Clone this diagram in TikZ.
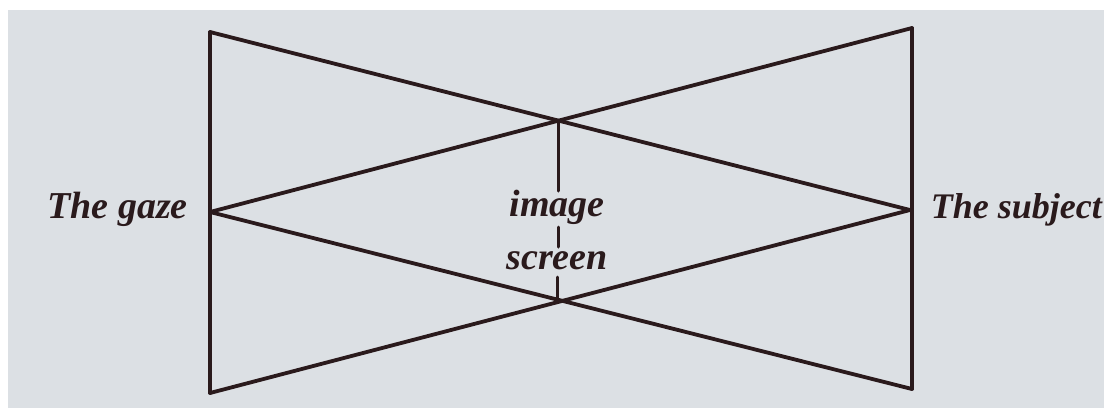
\documentclass[tikz,border=0pt]{standalone}
\usepackage{fontspec}
\setmainfont{Liberation Serif}
\definecolor{paper}{HTML}{DCE0E4}
\definecolor{ink}{HTML}{2A1A1C}
\tikzset{
  edge/.style={draw=ink, line width=3.8pt, line cap=round, line join=round},
  lbl/.style={text=ink, font=\fontsize{38}{42}\selectfont\bfseries\itshape, inner sep=0pt},
}
\begin{document}
\begin{tikzpicture}[x=1pt,y=-1pt]
\useasboundingbox (0,0) rectangle (1104,408);
\fill[white] (0,0) rectangle (1104,408);
\fill[paper] (8,10) rectangle (1104,408);
% corner points
\coordinate (TL) at (210,32);
\coordinate (BL) at (210,393);
\coordinate (G) at (210,212);
\coordinate (TR) at (912,28);
\coordinate (BR) at (912,389);
\coordinate (S) at (910,210);
\coordinate (X1) at (558,121);
\coordinate (X2) at (557,300);
\coordinate (d1) at (558,191);
\coordinate (d2) at (558,227);
\coordinate (d3) at (558,247);
\coordinate (d4) at (557,277);
% frame lines
\draw[edge] (TL) -- (BL);
\draw[edge] (TR) -- (BR);
\draw[edge] (TL) -- (S);
\draw[edge] (G) -- (TR);
\draw[edge] (G) -- (BR);
\draw[edge] (BL) -- (S);
% screen
\draw[edge, line width=3pt] (X1) -- (d1);
\draw[edge, line width=3pt] (d2) -- (d3);
\draw[edge, line width=3pt] (d4) -- (X2);
% labels
\node[lbl, anchor=base east] (gaze) at (188,218) {The gaze};
\node[lbl, anchor=base east, font=\fontsize{36}{40}\selectfont\bfseries\itshape] (subject) at (1102,218) {The subject};
\node[lbl, anchor=base] (image) at (557,216) {image};
\node[lbl, anchor=base] (screen) at (557,269) {screen};
\end{tikzpicture}
\end{document}
